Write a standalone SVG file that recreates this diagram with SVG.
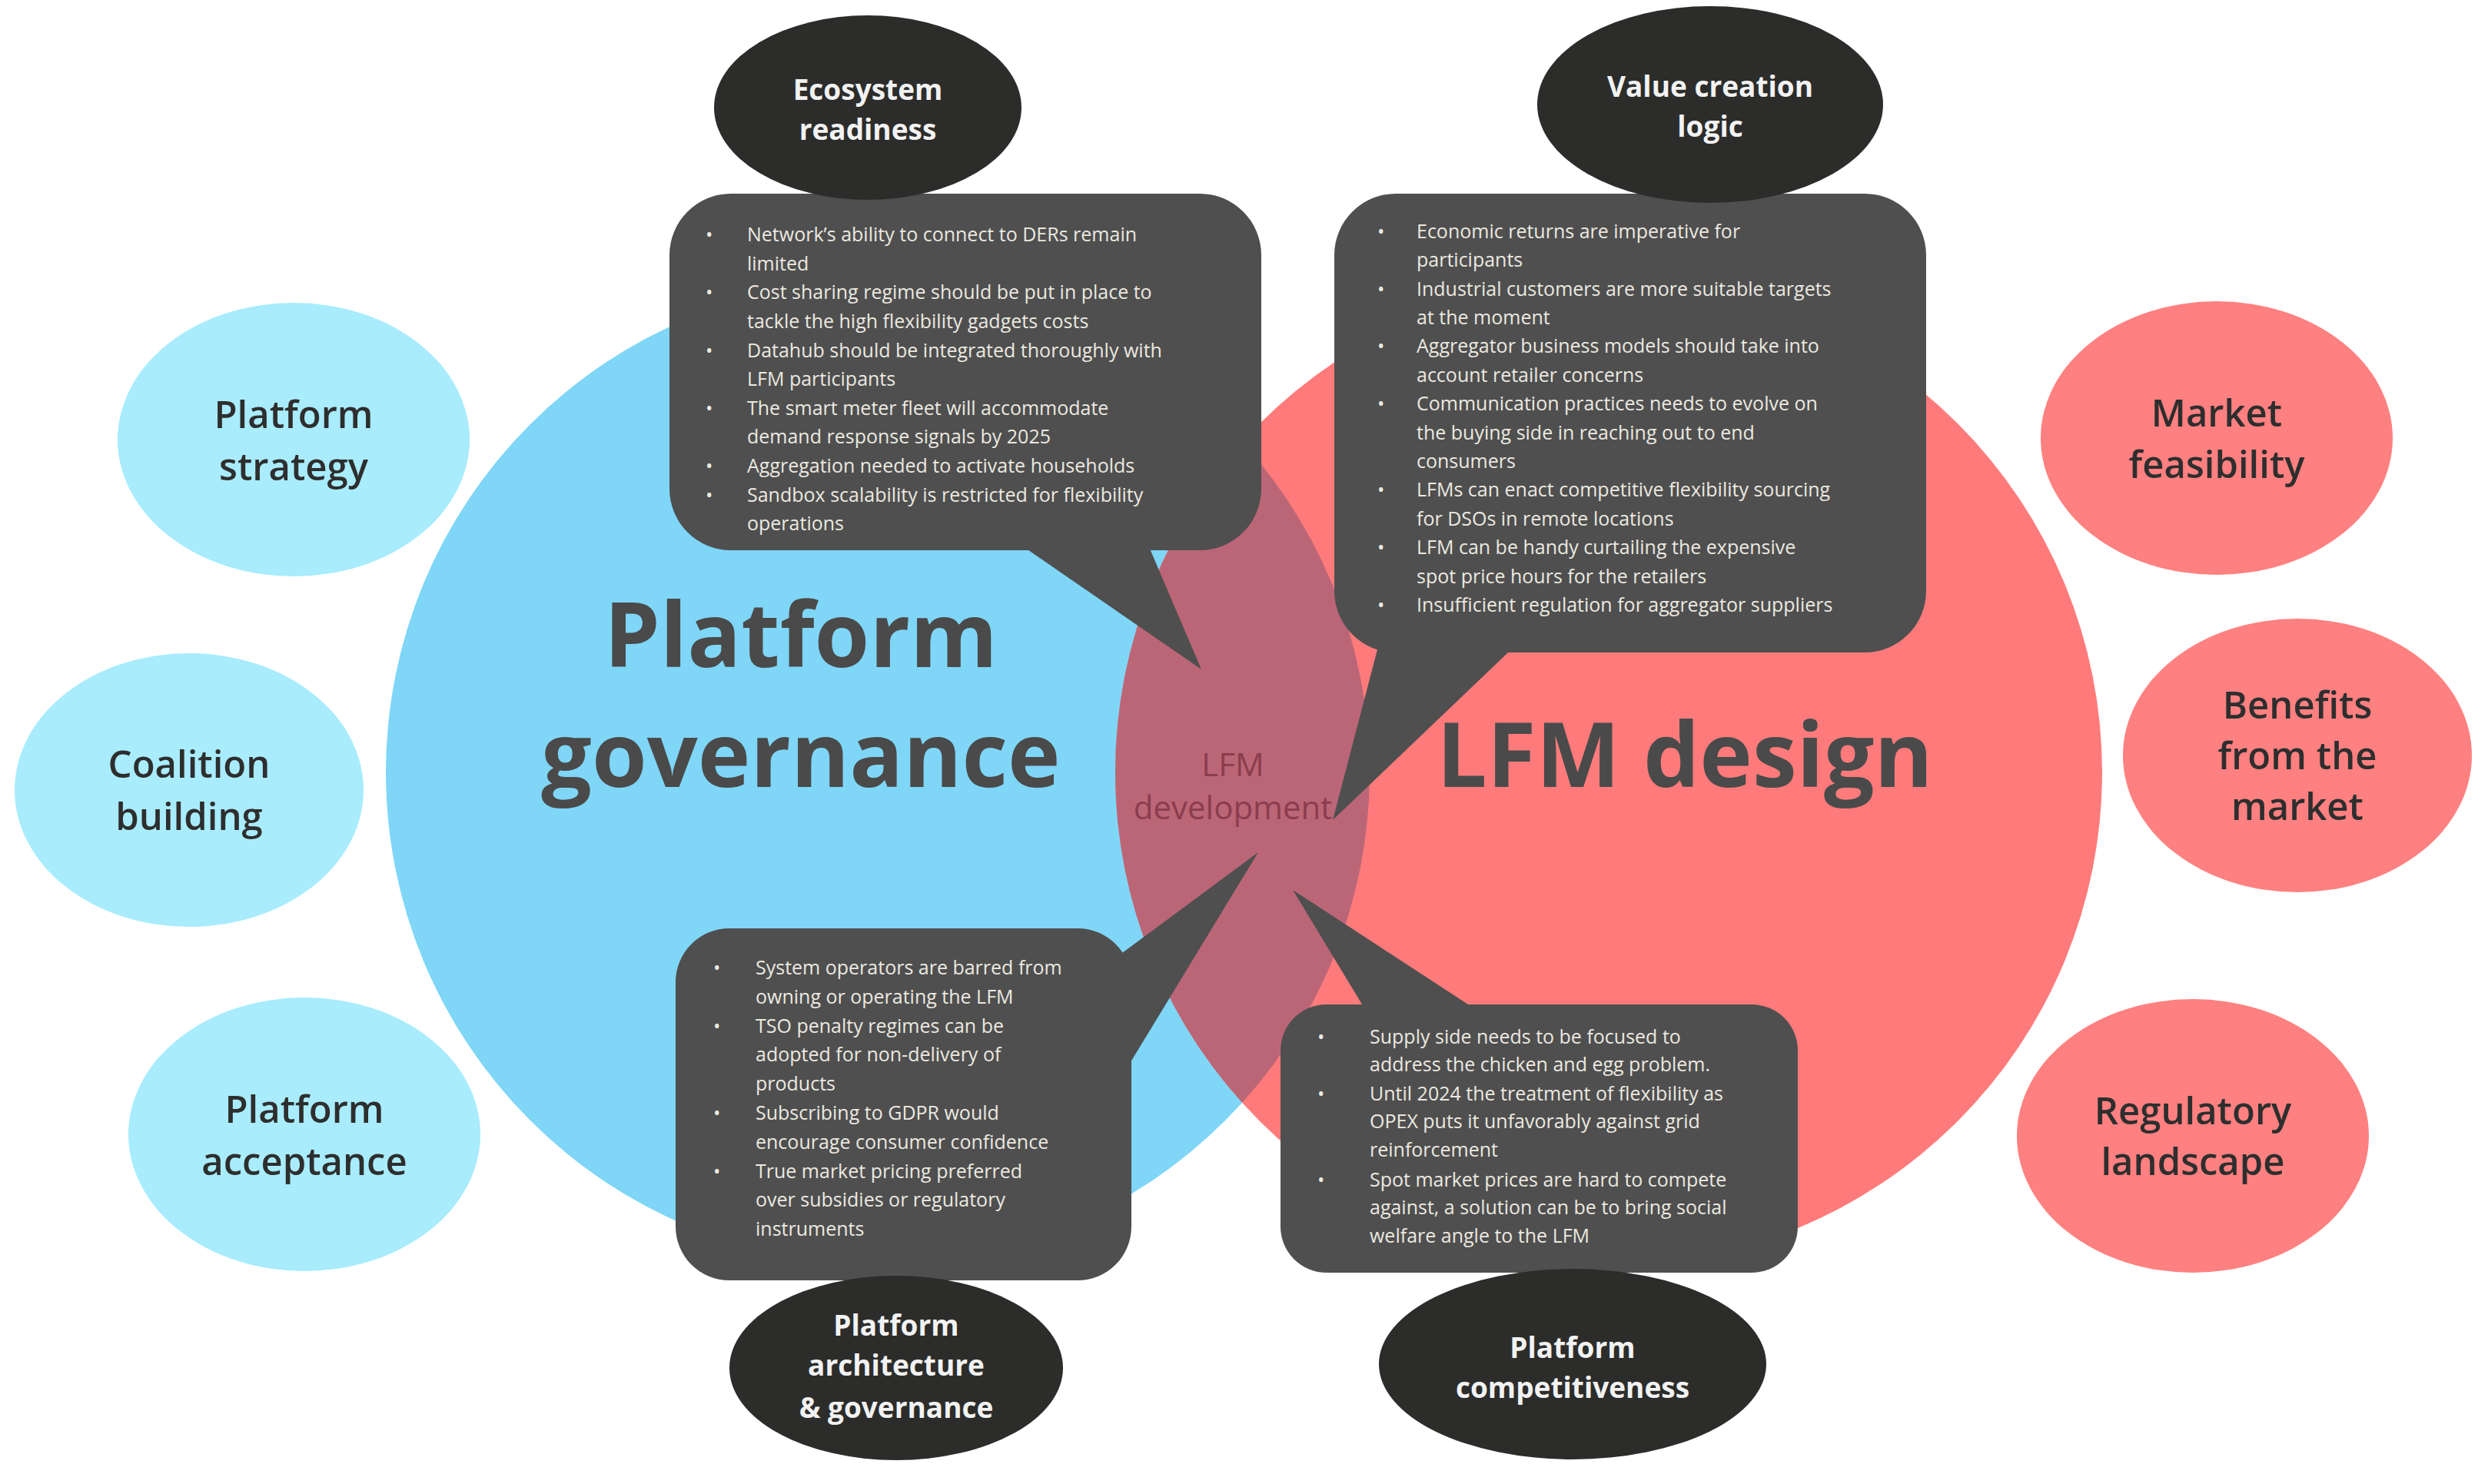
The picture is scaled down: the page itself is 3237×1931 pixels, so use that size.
<svg xmlns="http://www.w3.org/2000/svg" width="3237" height="1931" viewBox="0 0 3237 1931">
<style>
.big{font-family:"Open Sans","DejaVu Sans",sans-serif;font-weight:700;fill:#4a4a4a;text-anchor:middle;font-size:116px}
.bub{fill:#4f4f4f}
.bt{font-family:"Open Sans","DejaVu Sans",sans-serif;font-size:25px;fill:#ebe9e0}
.dk{fill:#2c2d2b}
.dt{font-family:"Open Sans","DejaVu Sans",sans-serif;font-size:37px;font-weight:700;fill:#f2f2f2;text-anchor:middle}
.lb{fill:#a8ecfd}
.lr{fill:#ff8080}
.ot{font-family:"Open Sans","DejaVu Sans",sans-serif;font-size:49px;font-weight:600;fill:#2e2e2e;text-anchor:middle}
</style>
<defs>
<clipPath id="cb"><circle cx="1142" cy="1005" r="640"/></clipPath>
</defs>
<rect width="3237" height="1931" fill="#ffffff"/>
<g id="circles">
<circle cx="1142" cy="1005" r="640" fill="#7fd6f7"/>
<circle cx="2093" cy="1005" r="642" fill="#ff7b7b"/>
<circle cx="2093" cy="1005" r="642" fill="#bb6677" clip-path="url(#cb)"/>
<text class="big" x="1042" y="868">Platform</text>
<text class="big" x="1042" y="1024">governance</text>
<text class="big" x="2192" y="1024">LFM design</text>
<text x="1604" y="1010" font-family="Open Sans, DejaVu Sans, sans-serif" font-size="42" fill="#8a3d4d" text-anchor="middle">LFM</text>
<text x="1604" y="1066" font-family="Open Sans, DejaVu Sans, sans-serif" font-size="42" fill="#8a3d4d" text-anchor="middle">development</text>
</g>
<g id="connectors">
<polygon class="bub" points="1315,700 1490,700 1563,871"/>
<polygon class="bub" points="1796,830 1982,830 1734,1067"/>
<polygon class="bub" points="1460,1240 1460,1400 1637,1109"/>
<polygon class="bub" points="1780,1320 1930,1320 1682,1158"/>
</g>
<g id="bubble-ecosystem">
<rect class="bub" x="871" y="252" width="770" height="464" rx="80"/>
<g class="bt">
<text x="918" y="314">•</text><text x="972" y="314">Network’s ability to connect to DERs remain</text>
<text x="972" y="352">limited</text>
<text x="918" y="389">•</text><text x="972" y="389">Cost sharing regime should be put in place to</text>
<text x="972" y="427">tackle the high flexibility gadgets costs</text>
<text x="918" y="465">•</text><text x="972" y="465">Datahub should be integrated thoroughly with</text>
<text x="972" y="502">LFM participants</text>
<text x="918" y="540">•</text><text x="972" y="540">The smart meter fleet will accommodate</text>
<text x="972" y="577">demand response signals by 2025</text>
<text x="918" y="615">•</text><text x="972" y="615">Aggregation needed to activate households</text>
<text x="918" y="653">•</text><text x="972" y="653">Sandbox scalability is restricted for flexibility</text>
<text x="972" y="690">operations</text>
</g>
</g>
<g id="bubble-value">
<rect class="bub" x="1736" y="252" width="770" height="597" rx="80"/>
<g class="bt">
<text x="1792" y="310">•</text><text x="1843" y="310">Economic returns are imperative for</text>
<text x="1843" y="347">participants</text>
<text x="1792" y="385">•</text><text x="1843" y="385">Industrial customers are more suitable targets</text>
<text x="1843" y="422">at the moment</text>
<text x="1792" y="459">•</text><text x="1843" y="459">Aggregator business models should take into</text>
<text x="1843" y="497">account retailer concerns</text>
<text x="1792" y="534">•</text><text x="1843" y="534">Communication practices needs to evolve on</text>
<text x="1843" y="572">the buying side in reaching out to end</text>
<text x="1843" y="609">consumers</text>
<text x="1792" y="646">•</text><text x="1843" y="646">LFMs can enact competitive flexibility sourcing</text>
<text x="1843" y="684">for DSOs in remote locations</text>
<text x="1792" y="721">•</text><text x="1843" y="721">LFM can be handy curtailing the expensive</text>
<text x="1843" y="759">spot price hours for the retailers</text>
<text x="1792" y="796">•</text><text x="1843" y="796">Insufficient regulation for aggregator suppliers</text>
</g>
</g>
<g id="bubble-architecture">
<rect class="bub" x="879" y="1208" width="593" height="458" rx="70"/>
<g class="bt">
<text x="928" y="1268">•</text><text x="983" y="1268">System operators are barred from</text>
<text x="983" y="1306">owning or operating the LFM</text>
<text x="928" y="1344">•</text><text x="983" y="1344">TSO penalty regimes can be</text>
<text x="983" y="1381">adopted for non-delivery of</text>
<text x="983" y="1419">products</text>
<text x="928" y="1457">•</text><text x="983" y="1457">Subscribing to GDPR would</text>
<text x="983" y="1495">encourage consumer confidence</text>
<text x="928" y="1533">•</text><text x="983" y="1533">True market pricing preferred</text>
<text x="983" y="1570">over subsidies or regulatory</text>
<text x="983" y="1608">instruments</text>
</g>
</g>
<g id="bubble-competitiveness">
<rect class="bub" x="1666" y="1307" width="673" height="349" rx="60"/>
<g class="bt">
<text x="1714" y="1358">•</text><text x="1782" y="1358">Supply side needs to be focused to</text>
<text x="1782" y="1394">address the chicken and egg problem.</text>
<text x="1714" y="1432">•</text><text x="1782" y="1432">Until 2024 the treatment of flexibility as</text>
<text x="1782" y="1468">OPEX puts it unfavorably against grid</text>
<text x="1782" y="1505">reinforcement</text>
<text x="1714" y="1544">•</text><text x="1782" y="1544">Spot market prices are hard to compete</text>
<text x="1782" y="1580">against, a solution can be to bring social</text>
<text x="1782" y="1617">welfare angle to the LFM</text>
</g>
</g>
<g id="ecosystem-readiness">
<ellipse class="dk" cx="1129" cy="140" rx="200" ry="120"/>
<text class="dt" x="1129" y="130">Ecosystem</text><text class="dt" x="1129" y="182">readiness</text>
</g>
<g id="value-creation">
<ellipse class="dk" cx="2225" cy="136" rx="225" ry="128"/>
<text class="dt" x="2225" y="126">Value creation</text><text class="dt" x="2225" y="178">logic</text>
</g>
<g id="platform-architecture">
<ellipse class="dk" cx="1166" cy="1780" rx="217" ry="120"/>
<text class="dt" x="1166" y="1738">Platform</text><text class="dt" x="1166" y="1790">architecture</text><text class="dt" x="1166" y="1845">&amp; governance</text>
</g>
<g id="platform-competitiveness">
<ellipse class="dk" cx="2046" cy="1775" rx="252" ry="124"/>
<text class="dt" x="2046" y="1767">Platform</text><text class="dt" x="2046" y="1819">competitiveness</text>
</g>
<g id="platform-strategy">
<ellipse class="lb" cx="382" cy="572" rx="229" ry="178"/>
<text class="ot" x="382" y="557">Platform</text><text class="ot" x="382" y="625">strategy</text>
</g>
<g id="coalition-building">
<ellipse class="lb" cx="246" cy="1028" rx="227" ry="178"/>
<text class="ot" x="246" y="1012">Coalition</text><text class="ot" x="246" y="1080">building</text>
</g>
<g id="platform-acceptance">
<ellipse class="lb" cx="396" cy="1476" rx="229" ry="178"/>
<text class="ot" x="396" y="1461">Platform</text><text class="ot" x="396" y="1529">acceptance</text>
</g>
<g id="market-feasibility">
<ellipse class="lr" cx="2884" cy="570" rx="229" ry="178"/>
<text class="ot" x="2884" y="555">Market</text><text class="ot" x="2884" y="622">feasibility</text>
</g>
<g id="benefits">
<ellipse class="lr" cx="2989" cy="983" rx="227" ry="178"/>
<text class="ot" x="2989" y="935">Benefits</text><text class="ot" x="2989" y="1001">from the</text><text class="ot" x="2989" y="1067">market</text>
</g>
<g id="regulatory-landscape">
<ellipse class="lr" cx="2853" cy="1478" rx="229" ry="178"/>
<text class="ot" x="2853" y="1463">Regulatory</text><text class="ot" x="2853" y="1529">landscape</text>
</g>
</svg>
